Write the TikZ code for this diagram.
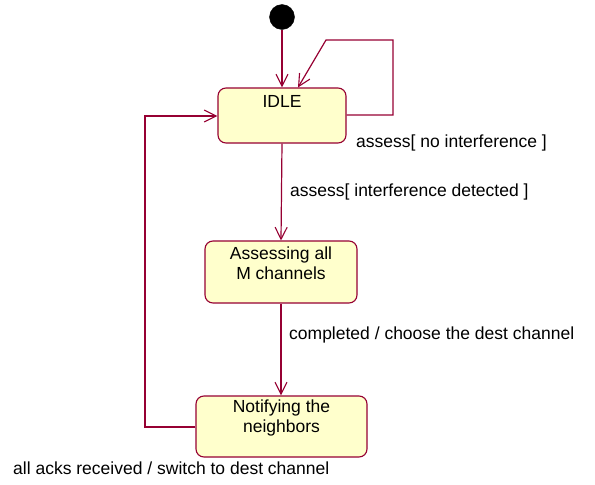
\documentclass[tikz,border=0pt]{standalone}
\usepackage{fontspec}
\setmainfont{Liberation Sans}
\usetikzlibrary{arrows.meta}
\definecolor{edge}{RGB}{150,0,50}
\definecolor{statefill}{RGB}{255,255,204}
\begin{document}
\begin{tikzpicture}[x=1pt,y=-1pt,
  every node/.style={font=\fontsize{17.5}{20.5}\selectfont},
  statebox/.style={draw=edge, fill=statefill, rounded corners=8pt, line width=1.1pt, inner sep=0pt},
  trans/.style={draw=edge, line width=1.2pt, -{Straight Barb[length=12pt,width=12pt,line width=1.1pt]}},
  lbl/.style={anchor=west, inner sep=0pt}]
\useasboundingbox (0,0) rectangle (595,485);
\node[circle, fill=black, draw=black, minimum size=25pt, inner sep=0pt] (init) at (282,17) {};
\node[statebox, minimum width=128pt, minimum height=55pt] (idle) at (282,115.5) {};
\node (idletxt) at (282,101) {IDLE};
\node[statebox, minimum width=152pt, minimum height=62pt] (assess) at (281,272) {};
\node[align=center, inner sep=0pt] (assesstxt) at (281,263) {Assessing all\\ M channels};
\node[statebox, minimum width=171pt, minimum height=61pt] (notify) at (281.5,426.5) {};
\node[align=center, inner sep=0pt] (notifytxt) at (281.5,418) {Notifying the\\neighbors};
\coordinate (l1) at (393,115);
\coordinate (l2) at (393,40);
\coordinate (l3) at (326,40);
\coordinate (l4) at (298,40);
\coordinate (r1) at (145,427);
\coordinate (r2) at (145,116);
\draw[trans] (init) -- (init.south |- idle.north);
\draw[trans] (idle.east |- l1) -- (l1) -- (l2) -- (l3) -- (l4 |- idle.north);
\draw[trans] (idle.south) -- (assess.north);
\draw[trans] (assess.south) -- (assess.south |- notify.north);
\draw[trans] (notify.west |- r1) -- (r1) -- (r2) -- (idle.west |- r2);
\node[lbl] (t1) at (356,143) {assess[ no interference ]};
\node[lbl] (t2) at (290,192) {assess[ interference detected ]};
\node[lbl] (t3) at (289,335) {completed / choose the dest channel};
\node[lbl] (t4) at (13,468) {all acks received / switch to dest channel};
\end{tikzpicture}
\end{document}
